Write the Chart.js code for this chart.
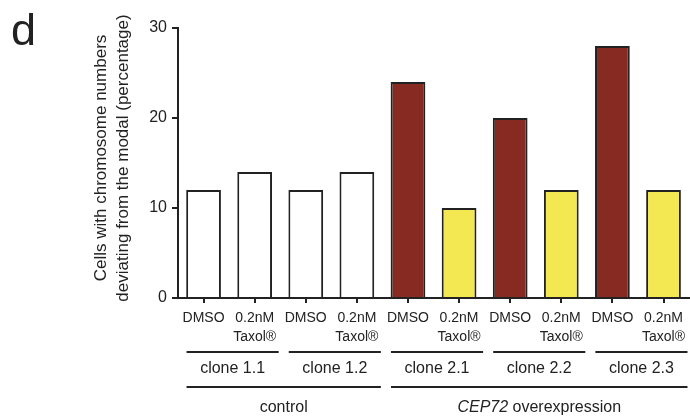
<!DOCTYPE html>
<html>
<head>
<meta charset="utf-8">
<script src="https://cdn.jsdelivr.net/npm/chart.js@4.4.1/dist/chart.umd.min.js"></script>
<style>
  html, body { margin: 0; padding: 0; background: #fff; }
  #wrap { width: 690px; height: 420px; }
</style>
</head>
<body>
<div id="wrap"><canvas id="grafico"></canvas></div>
<script>
// dados
const tratamentos = [['DMSO'], ['0.2nM', 'Taxol®']];
const clones = ['clone 1.1', 'clone 1.2', 'clone 2.1', 'clone 2.2', 'clone 2.3'];
const grupos = ['control', 'CEP72 overexpression'];
const clonesPorGrupo = [2, 3];
const valores = [12, 14, 12, 14, 24, 10, 20, 12, 28, 12];
const yTicks = [0, 10, 20, 30];

const fonte = '"Liberation Sans", Arial, sans-serif';
const escuro = '#222';

// um rotulo por barra
const labels = [];
clones.forEach(() => tratamentos.forEach(t => labels.push(t)));

const cores = labels.map((l, i) => {
  if (i < clonesPorGrupo[0] * tratamentos.length) return '#ffffff';
  return l[0] === 'DMSO' ? '#862a22' : '#f4e852';
});

const anotacoes = {
  id: 'anotacoes',
  afterDraw(chart) {
    const ctx = chart.ctx;
    const x = chart.scales.x;
    const area = chart.chartArea;
    const base = area.bottom;
    ctx.save();
    ctx.fillStyle = escuro;
    ctx.strokeStyle = escuro;
    ctx.lineWidth = 2;

    // letra do painel
    ctx.font = '45px ' + fonte;
    ctx.textAlign = 'left';
    ctx.textBaseline = 'alphabetic';
    ctx.fillText('d', 11, 45);

    // titulo do eixo y
    ctx.save();
    ctx.translate(0, (area.top + area.bottom) / 2 - 5);
    ctx.rotate(-Math.PI / 2);
    ctx.font = '17px ' + fonte;
    ctx.textAlign = 'center';
    ctx.textBaseline = 'middle';
    ctx.fillText('Cells with chromosome numbers', 0, 101);
    ctx.fillText('deviating from the modal (percentage)', 0, 123);
    ctx.restore();

    // linhas e nomes dos clones
    ctx.font = '16px ' + fonte;
    ctx.textAlign = 'center';
    ctx.textBaseline = 'middle';
    clones.forEach((c, k) => {
      const i = k * tratamentos.length;
      const x0 = x.getPixelForValue(i) - 17;
      const x1 = Math.min(x.getPixelForValue(i + tratamentos.length - 1) + 24, chart.width);
      ctx.beginPath();
      ctx.moveTo(x0, base + 54);
      ctx.lineTo(x1, base + 54);
      ctx.stroke();
      ctx.fillText(c, (x0 + x1) / 2, base + 71);
    });

    // linhas e nomes dos grupos
    let ini = 0;
    grupos.forEach((g, k) => {
      const n = clonesPorGrupo[k] * tratamentos.length;
      const x0 = x.getPixelForValue(ini) - 17;
      const x1 = Math.min(x.getPixelForValue(ini + n - 1) + 24, chart.width);
      ini += n;
      ctx.beginPath();
      ctx.moveTo(x0, base + 89);
      ctx.lineTo(x1, base + 89);
      ctx.stroke();
      const cx = (x0 + x1) / 2;
      const y = base + 110;
      if (g.startsWith('CEP72')) {
        const parte1 = 'CEP72';
        const parte2 = g.slice(parte1.length);
        ctx.font = 'italic 16px ' + fonte;
        const w1 = ctx.measureText(parte1).width;
        ctx.font = '16px ' + fonte;
        const w2 = ctx.measureText(parte2).width;
        const sx = cx - (w1 + w2) / 2;
        ctx.textAlign = 'left';
        ctx.font = 'italic 16px ' + fonte;
        ctx.fillText(parte1, sx, y);
        ctx.font = '16px ' + fonte;
        ctx.fillText(parte2, sx + w1, y);
        ctx.textAlign = 'center';
      } else {
        ctx.fillText(g, cx, y);
      }
    });
    ctx.restore();
  }
};

new Chart(document.getElementById('grafico'), {
  type: 'bar',
  data: {
    labels: labels,
    datasets: [{
      data: valores,
      backgroundColor: cores,
      borderColor: escuro,
      borderWidth: 2,
      borderSkipped: 'bottom',
      barPercentage: 0.68,
      categoryPercentage: 1
    }]
  },
  options: {
    responsive: true,
    maintainAspectRatio: false,
    animation: false,
    layout: { padding: { top: 28, right: 0, bottom: 0, left: 0 } },
    plugins: {
      legend: { display: false },
      tooltip: { enabled: false }
    },
    scales: {
      x: {
        offset: true,
        afterFit: s => { s.height = 122; },
        grid: {
          display: true,
          offset: false,
          drawOnChartArea: false,
          drawTicks: true,
          tickLength: 5,
          color: escuro,
          lineWidth: 2
        },
        border: { display: true, color: escuro, width: 2 },
        ticks: {
          color: escuro,
          font: { family: fonte, size: 14, lineHeight: 1.4 },
          padding: 5,
          maxRotation: 0,
          autoSkip: false
        }
      },
      y: {
        min: 0,
        max: 30,
        afterFit: s => { s.width = 178; },
        afterBuildTicks: s => { s.ticks = yTicks.map(v => ({ value: v })); },
        grid: {
          display: true,
          drawOnChartArea: false,
          drawTicks: true,
          tickLength: 6,
          color: escuro,
          lineWidth: 2
        },
        border: { display: true, color: escuro, width: 2 },
        ticks: {
          color: escuro,
          font: { family: fonte, size: 16 },
          padding: 5
        }
      }
    }
  },
  plugins: [anotacoes]
});
</script>
</body>
</html>
